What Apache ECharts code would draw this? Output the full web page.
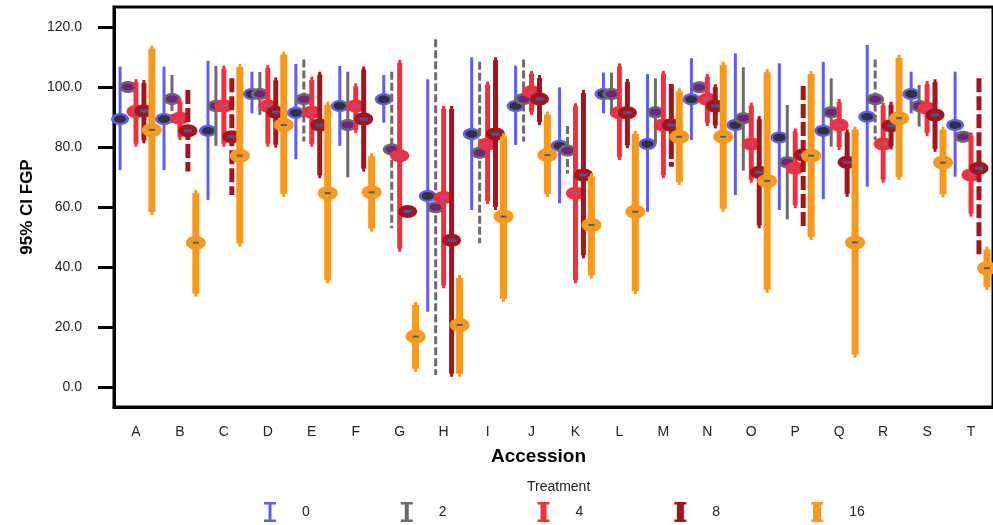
<!DOCTYPE html>
<html>
<head>
<meta charset="utf-8">
<script src="https://cdn.jsdelivr.net/npm/echarts@6/dist/echarts.min.js"></script>
<style>
html, body { margin: 0; padding: 0; background: #fff; }
#chart { width: 993px; height: 525px; }
</style>
</head>
<body>
<div id="chart"></div>
<script>
var accessions = ['A', 'B', 'C', 'D', 'E', 'F', 'G', 'H', 'I', 'J', 'K', 'L', 'M', 'N', 'O', 'P', 'Q', 'R', 'S', 'T'];
var treatments = ['0', '2', '4', '8', '16'];
var yTicks = [0, 20, 40, 60, 80, 100, 120];

// treatment 0
var t0Mean = [89.3, 89.3, 85.4, 97.7, 91.4, 93.7, 95.9, 63.7, 84.3, 93.7, 80.4, 97.7, 81.0, 95.9, 87.3, 83.2, 85.4, 90.1, 97.7, 87.3];
var t0Low = [72.3, 72.3, 62.3, 91.2, 75.9, 80.4, 88.1, 25.1, 59.0, 80.7, 61.2, 91.2, 58.4, 82.3, 64.0, 59.0, 62.6, 66.8, 91.2, 70.1];
var t0High = [106.8, 106.8, 108.7, 105.1, 107.7, 107.0, 104.0, 102.6, 109.9, 107.1, 99.9, 104.8, 104.3, 109.6, 111.2, 107.9, 108.4, 114.0, 105.1, 105.1];
var t0Dash = [0, 0, 0, 0, 0, 0, 0, 0, 0, 0, 0, 0, 0, 0, 0, 0, 0, 0, 0, 0];
// treatment 2
var t2Mean = [100.0, 96.0, 93.7, 97.7, 95.9, 87.3, 79.2, 59.9, 78.1, 96.0, 78.8, 97.7, 91.6, 99.9, 89.6, 74.9, 91.6, 95.9, 93.7, 83.4];
var t2Low = [100.0, 87.9, 80.4, 90.7, 81.8, 69.9, 52.9, 4.0, 47.9, 81.8, 71.2, 90.7, 81.2, 99.9, 72.1, 55.9, 80.1, 82.3, 86.8, 83.4];
var t2High = [100.0, 104.0, 107.0, 105.0, 109.2, 105.1, 105.1, 115.9, 108.4, 109.2, 87.0, 104.8, 102.9, 99.9, 106.6, 94.0, 102.9, 109.2, 100.7, 83.4];
var t2Dash = [0, 2, 0, 0, 1, 0, 1, 1, 1, 1, 1, 0, 0, 0, 0, 0, 0, 1, 0, 0];
// treatment 4
var t4Mean = [91.8, 89.6, 93.7, 93.7, 91.6, 93.7, 77.1, 63.2, 81.0, 98.4, 64.6, 91.4, 87.3, 95.9, 81.0, 72.9, 87.3, 81.0, 92.9, 70.7];
var t4Low = [80.1, 82.3, 80.1, 80.1, 80.1, 84.6, 45.1, 32.9, 61.0, 90.7, 34.6, 75.7, 69.6, 87.0, 68.1, 59.6, 79.0, 68.1, 83.7, 56.8];
var t4High = [102.6, 96.2, 107.1, 107.3, 103.4, 101.2, 109.0, 93.7, 101.8, 105.4, 94.6, 107.9, 105.4, 104.3, 94.8, 86.2, 96.0, 94.8, 102.0, 84.8];
var t4Dash = [0, 0, 0, 0, 0, 0, 0, 0, 0, 0, 0, 0, 0, 0, 0, 0, 0, 0, 0, 0];
// treatment 8
var t8Mean = [92.0, 85.4, 83.4, 91.6, 87.3, 89.3, 58.5, 48.9, 84.3, 96.0, 70.7, 91.4, 87.3, 93.7, 71.6, 77.3, 74.9, 87.1, 90.7, 72.9];
var t8Low = [81.2, 71.8, 64.0, 79.8, 69.6, 71.8, 58.5, 3.4, 59.0, 87.3, 42.9, 79.6, 73.4, 86.2, 52.9, 53.4, 63.4, 79.2, 78.4, 42.9];
var t8High = [102.3, 99.0, 102.9, 103.2, 105.1, 106.8, 58.5, 93.7, 109.9, 104.0, 99.0, 102.7, 101.0, 100.9, 90.3, 100.3, 85.9, 95.1, 102.6, 102.9];
var t8Dash = [0, 1, 1, 0, 0, 0, 0, 0, 0, 0, 0, 0, 2, 0, 0, 1, 0, 0, 0, 1];
// treatment 16
var t16Mean = [85.7, 48.1, 77.1, 87.3, 64.6, 64.9, 16.8, 20.7, 56.8, 77.3, 54.0, 58.4, 83.4, 83.4, 68.7, 77.1, 48.2, 89.6, 74.8, 39.6];
var t16Low = [57.3, 30.1, 46.8, 63.4, 34.6, 51.8, 5.1, 3.4, 28.4, 63.4, 36.2, 31.0, 67.3, 58.4, 31.4, 49.0, 9.8, 69.0, 63.2, 32.3];
var t16High = [113.8, 65.7, 107.7, 111.8, 95.1, 77.9, 28.4, 37.3, 84.6, 91.8, 71.2, 85.4, 99.6, 108.4, 105.9, 105.3, 86.8, 110.7, 86.8, 46.8];
var t16Dash = [0, 0, 0, 0, 0, 0, 0, 0, 0, 0, 0, 0, 0, 0, 0, 0, 0, 0, 0, 0];

var means = [t0Mean, t2Mean, t4Mean, t8Mean, t16Mean];
var lows = [t0Low, t2Low, t4Low, t8Low, t16Low];
var highs = [t0High, t2High, t4High, t8High, t16High];
var dashes = [t0Dash, t2Dash, t4Dash, t8Dash, t16Dash];

var looks = [
    { color: '#5c5cff', width: 3, tip: 0, dash: [8, 3], rx: 9, ry: 6, inner: 'ellipse', innerColor: '#333333', irx: 6, iry: 3.8 },
    { color: '#6b6b6b', width: 3, tip: 0, dash: [8, 3], rx: 9, ry: 6, inner: 'ellipse', innerColor: '#6f2480', irx: 6, iry: 3.5 },
    { color: '#f2303d', width: 5, tip: 3, dash: [14, 4], rx: 9.5, ry: 6.5, inner: 'rect', innerColor: '#b04a90', irx: 4, iry: 1.3 },
    { color: '#a3141c', width: 5, tip: 3, dash: [14, 4], rx: 9.5, ry: 6.5, inner: 'rect', innerColor: '#3c5aa8', irx: 4, iry: 1.5 },
    { color: '#f8991f', width: 7, tip: 3, dash: [14, 4], rx: 10, ry: 7, inner: 'rect', innerColor: '#2b6b85', irx: 3, iry: 1 }
];

function iconPath(stem) {
    var a = (6 - stem / 2).toFixed(2), b = (6 + stem / 2).toFixed(2);
    return 'path://M0,0 H12 V2.5 H' + b + ' V17.5 H12 V20 H0 V17.5 H' + a + ' V2.5 H0 Z';
}

function makeRender(t) {
    var lk = looks[t];
    return function (params, api) {
        var i = api.value(0);
        var band = api.size([1, 0])[0];
        var dx = (t - 2) * band * 0.181;
        var pm = api.coord([i, api.value(1)]);
        var pl = api.coord([i, api.value(2)]);
        var ph = api.coord([i, api.value(3)]);
        var dashType = api.value(4);
        var x = pm[0] + dx;
        var kids = [];
        if (pl[1] - ph[1] > 1) {
            if (dashType === 0 && lk.tip) {
                kids.push({ type: 'line', shape: { x1: x, y1: ph[1], x2: x, y2: pl[1] },
                    style: { stroke: lk.color, lineWidth: lk.tip } });
                kids.push({ type: 'line', shape: { x1: x, y1: ph[1] + 3, x2: x, y2: pl[1] - 3 },
                    style: { stroke: lk.color, lineWidth: lk.width } });
            } else {
                var ld = dashType === 1 ? lk.dash : (dashType === 2 ? [36, 3] : null);
                kids.push({ type: 'line', shape: { x1: x, y1: ph[1], x2: x, y2: pl[1] },
                    style: { stroke: lk.color, lineWidth: lk.width, lineDash: ld } });
            }
        }
        kids.push({ type: 'ellipse', shape: { cx: x, cy: pm[1], rx: lk.rx, ry: lk.ry },
            style: { fill: lk.color } });
        if (lk.inner === 'ellipse') {
            kids.push({ type: 'ellipse', shape: { cx: x, cy: pm[1], rx: lk.irx, ry: lk.iry },
                style: { fill: lk.innerColor } });
        } else {
            kids.push({ type: 'rect', shape: { x: x - lk.irx, y: pm[1] - lk.iry, width: lk.irx * 2, height: lk.iry * 2 },
                style: { fill: lk.innerColor } });
        }
        return { type: 'group', children: kids };
    };
}

var series = treatments.map(function (name, t) {
    var data = accessions.map(function (a, i) {
        return [i, means[t][i], lows[t][i], highs[t][i], dashes[t][i]];
    });
    return {
        name: name,
        type: 'custom',
        renderItem: makeRender(t),
        itemStyle: { color: looks[t].color },
        encode: { x: 0, y: [1, 2, 3] },
        data: data,
        z: 2 + t
    };
});

var stems = [3, 4, 6, 7, 8];
var font = "'Liberation Sans', Arial, sans-serif";

var myChart = echarts.init(document.getElementById('chart'));
myChart.setOption({
    animation: false,
    textStyle: { fontFamily: font },
    grid: {
        left: 114, top: 7, width: 883, height: 400,
        show: true, borderColor: '#000', borderWidth: 3, backgroundColor: 'transparent'
    },
    xAxis: {
        type: 'category',
        data: accessions,
        name: 'Accession',
        nameLocation: 'middle',
        nameGap: 40,
        nameTextStyle: { fontSize: 19, fontWeight: 'bold', color: '#000', padding: [0, 30, 0, 0] },
        axisLine: { onZero: false, lineStyle: { color: '#000', width: 3 } },
        axisTick: { alignWithLabel: true, length: 10, lineStyle: { color: '#000', width: 2.5 } },
        axisLabel: { fontSize: 14, color: '#222', margin: 18 }
    },
    yAxis: {
        type: 'value',
        min: -6.667,
        max: 126.667,
        name: '95% CI FGP',
        nameLocation: 'middle',
        nameGap: 78,
        nameTextStyle: { fontSize: 17, fontWeight: 'bold', color: '#000' },
        axisLine: { show: true, lineStyle: { color: '#000', width: 3 } },
        axisTick: { show: true, customValues: yTicks, length: 16, lineStyle: { color: '#000', width: 3 } },
        axisLabel: {
            customValues: yTicks, fontSize: 14, color: '#222', margin: 32,
            formatter: function (v) { return v.toFixed(1); }
        },
        splitLine: { show: false }
    },
    legend: {
        left: 264,
        top: 502,
        padding: 0,
        itemWidth: 12,
        itemHeight: 20,
        itemGap: 91,
        selectedMode: false,
        textStyle: { fontSize: 14, color: '#222', padding: [0, 0, 0, 21] },
        data: treatments.map(function (n, t) { return { name: n, icon: iconPath(stems[t]) }; })
    },
    graphic: [{
        type: 'text',
        left: 527,
        top: 480,
        style: { text: 'Treatment', font: '14px ' + font, fill: '#222' }
    }],
    series: series
});
</script>
</body>
</html>
